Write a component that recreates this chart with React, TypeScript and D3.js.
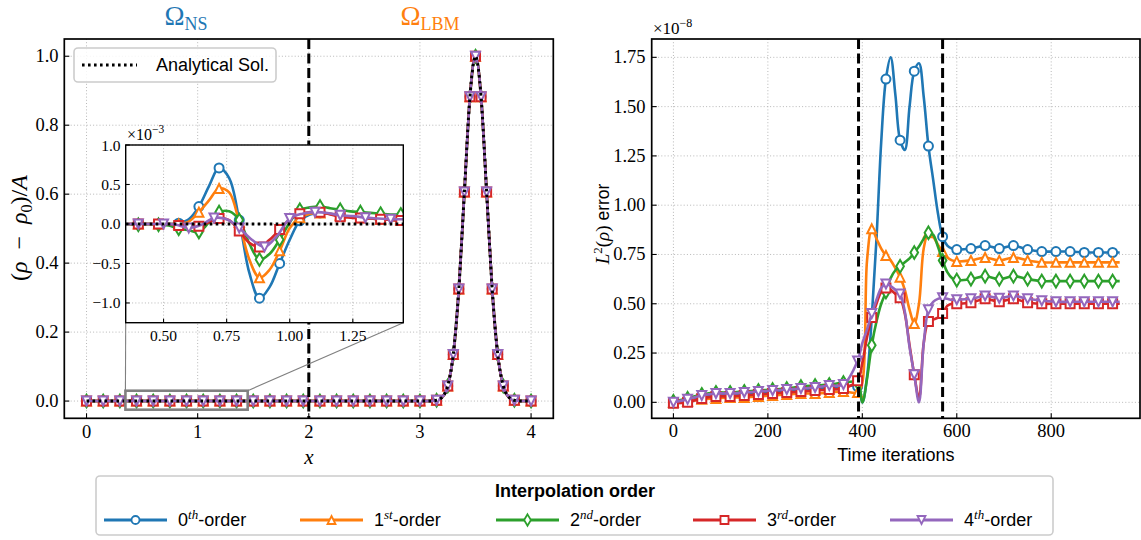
import React, { useEffect, useRef } from 'react';
import * as d3 from 'd3';

const SERIF = '"Liberation Serif", "DejaVu Serif", serif';
const SANS = '"Liberation Sans", "DejaVu Sans", sans-serif';

const COLORS = ['#1f77b4', '#ff7f0e', '#2ca02c', '#d62728', '#9467bd'];
const MARKER_KINDS = ['o', '^', 'd', 's', 'v'];
const ORDER_NUM = ['0', '1', '2', '3', '4'];
const ORDER_SUP = ['th', 'st', 'nd', 'rd', 'th'];

// ---------- Left panel: density profile, x = 0, 0.05, ..., 4.00 ----------
const profileX = d3.range(81).map((i) => +(i * 0.05).toFixed(2));
const profileY = [
  0, 0, 0, 0, 0, 0, 0, 0, 0, 0,
  0, 0, 0, 0, 0, 0, 0, 0, 0, 0,
  0, 0, 0, 0, 0, 0, 0, 0, 0, 0,
  0, 0, 0, 0, 0, 0, 0, 0, 0, 0,
  0, 0, 0, 0, 0, 0, 0, 0, 0, 0,
  0, 0, 0, 0, 0, 0, 0, 0, 0, 0,
  0, 0, 0.0003, 0.0022, 0.0111, 0.0439, 0.1353, 0.3247, 0.6065, 0.8825,
  1.0, 0.8825, 0.6065, 0.3247, 0.1353, 0.0439, 0.0111, 0.0022, 0.0003, 0,
  0,
];
const analyticalY = profileY;

// ---------- Inset (values x 1e-3) ----------
const insetX = [0.36, 0.40, 0.44, 0.48, 0.52, 0.56, 0.60, 0.64, 0.68, 0.72, 0.76, 0.80, 0.84, 0.88,
  0.92, 0.96, 1.00, 1.04, 1.08, 1.12, 1.16, 1.20, 1.24, 1.28, 1.32, 1.36, 1.40, 1.44];
const insetBlue = [0, 0, 0, 0, 0, 0.01, 0.06, 0.22, 0.48, 0.71, 0.58, 0.05, -0.62, -0.94, -0.8, -0.5,
  -0.2, 0.04, 0.12, 0.14, 0.13, 0.11, 0.09, 0.08, 0.07, 0.06, 0.05, 0.05];
const insetOrange = [0, 0, 0, 0, 0, 0, 0.03, 0.15, 0.3, 0.45, 0.4, 0.02, -0.45, -0.68, -0.58, -0.34,
  -0.05, 0.08, 0.13, 0.14, 0.13, 0.11, 0.09, 0.08, 0.07, 0.06, 0.05, 0.05];
const insetGreen = [0, -0.01, 0, -0.01, -0.02, -0.06, -0.08, -0.1, 0.02, 0.15, 0.16, 0.05, -0.25, -0.45,
  -0.38, -0.2, 0.02, 0.18, 0.21, 0.22, 0.2, 0.18, 0.16, 0.15, 0.14, 0.13, 0.12, 0.12];
const insetRed = [0, 0, 0, 0, 0, -0.02, -0.03, -0.03, 0.02, 0.07, 0.05, -0.09, -0.24, -0.29, -0.2, -0.07,
  0.06, 0.13, 0.15, 0.15, 0.12, 0.09, 0.08, 0.075, 0.07, 0.06, 0.05, 0.045];
const insetPurpleX = [0.35, 0.40, 0.45, 0.50, 0.55, 0.60, 0.65, 0.70, 0.75, 0.80, 0.85, 0.90, 0.95,
  1.00, 1.05, 1.10, 1.15, 1.20, 1.25, 1.30, 1.35, 1.40, 1.45];
const insetPurple = [0, 0, 0, 0, -0.01, -0.05, -0.01, 0.075, 0.06, -0.05, -0.2, -0.29, -0.15, 0.07,
  0.13, 0.15, 0.14, 0.11, 0.1, 0.08, 0.07, 0.06, 0.06];
const insetAnalyticalX = [0.35, 1.45];
const insetAnalytical = [0, 0];

// ---------- Right panel: L2 error (x 1e-8) ----------
const iterations = [0, 30, 60, 90, 120, 150, 180, 210, 240, 270, 300, 330, 360,
  390, 400, 410, 420, 430, 440, 450, 460, 470, 480, 490, 500, 510, 520, 530, 540, 550, 560, 570, 580, 590, 600,
  630, 660, 690, 720, 750, 780, 810, 840, 870, 900, 930, 945];
const errBlue = [0.0, 0.01, 0.03, 0.04, 0.04, 0.045, 0.05, 0.055, 0.06, 0.065, 0.07, 0.075, 0.08,
  0.08, 0.0, 0.13, 0.43, 0.83, 1.32, 1.64, 1.75, 1.56, 1.33, 1.28, 1.5, 1.68, 1.72, 1.55, 1.3, 1.13, 0.96, 0.84, 0.795, 0.78, 0.775,
  0.78, 0.795, 0.78, 0.795, 0.775, 0.765, 0.765, 0.765, 0.76, 0.76, 0.76, 0.76];
const errOrange = [0.0, 0.005, 0.015, 0.02, 0.025, 0.025, 0.03, 0.035, 0.04, 0.045, 0.045, 0.05, 0.055,
  0.05, 0.1, 0.72, 0.88, 0.83, 0.78, 0.745, 0.72, 0.68, 0.635, 0.57, 0.47, 0.4, 0.5, 0.78, 0.86, 0.84, 0.8, 0.765, 0.735, 0.72, 0.715,
  0.72, 0.735, 0.72, 0.735, 0.72, 0.71, 0.71, 0.71, 0.71, 0.71, 0.71, 0.71];
const errGreen = [0.005, 0.02, 0.04, 0.05, 0.05, 0.055, 0.06, 0.065, 0.07, 0.08, 0.085, 0.09, 0.1,
  0.1, 0.0, 0.12, 0.29, 0.41, 0.5, 0.56, 0.63, 0.67, 0.69, 0.71, 0.73, 0.76, 0.79, 0.83, 0.86, 0.85, 0.79, 0.72, 0.66, 0.63, 0.62,
  0.625, 0.64, 0.625, 0.64, 0.625, 0.615, 0.615, 0.615, 0.615, 0.615, 0.615, 0.615];
const errRed = [-0.005, 0.0, 0.02, 0.03, 0.03, 0.035, 0.04, 0.045, 0.05, 0.055, 0.06, 0.065, 0.07,
  0.11, 0.2, 0.33, 0.43, 0.5, 0.56, 0.58, 0.57, 0.55, 0.53, 0.45, 0.29, 0.14, 0.02, 0.3, 0.41, 0.42, 0.43, 0.45, 0.49, 0.5, 0.5,
  0.505, 0.525, 0.51, 0.525, 0.505, 0.5, 0.5, 0.5, 0.5, 0.5, 0.5, 0.5];
const errPurple = [0.0, 0.015, 0.035, 0.045, 0.045, 0.05, 0.055, 0.06, 0.065, 0.07, 0.075, 0.085, 0.09,
  0.21, 0.3, 0.37, 0.45, 0.52, 0.58, 0.6, 0.59, 0.57, 0.55, 0.46, 0.28, 0.14, 0.0, 0.3, 0.47, 0.51, 0.525, 0.53, 0.525, 0.52, 0.52,
  0.525, 0.54, 0.528, 0.54, 0.525, 0.515, 0.51, 0.51, 0.51, 0.51, 0.51, 0.51];
const interfaceIterations = [392, 570];

// ---------- ticks ----------
const leftXTicks = [0, 1, 2, 3, 4];
const leftYTicks = [0, 0.2, 0.4, 0.6, 0.8, 1.0];
const insetXTicks = [0.5, 0.75, 1.0, 1.25];
const insetYTicks = [-1.0, -0.5, 0, 0.5, 1.0];
const rightXTicks = [0, 200, 400, 600, 800];
const rightYTicks = [0, 0.25, 0.5, 0.75, 1.0, 1.25, 1.5, 1.75];

type G = d3.Selection<SVGGElement, unknown, null, undefined>;

const LW = 2.6;
const MSW = 2;

function drawMarker(g: G, kind: string, cx: number, cy: number, s: number, color: string, sw: number) {
  const h = s / 2;
  let el: any;
  if (kind === 'o') {
    el = g.append('circle').attr('cx', cx).attr('cy', cy).attr('r', h);
  } else {
    let d = '';
    if (kind === '^') d = `M${cx},${cy - h}L${cx + h},${cy + h}L${cx - h},${cy + h}Z`;
    if (kind === 'v') d = `M${cx},${cy + h}L${cx + h},${cy - h}L${cx - h},${cy - h}Z`;
    if (kind === 's') d = `M${cx - h},${cy - h}h${s}v${s}h${-s}Z`;
    if (kind === 'd') {
      const dh = s * 0.707, dw = s * 0.707 * 0.6;
      d = `M${cx},${cy - dh}L${cx + dw},${cy}L${cx},${cy + dh}L${cx - dw},${cy}Z`;
    }
    el = g.append('path').attr('d', d);
  }
  el.attr('fill', '#fff').attr('stroke', color).attr('stroke-width', sw).attr('stroke-linejoin', 'miter');
}

function drawPath(g: G, xs: number[], ys: number[], xS: any, yS: any, color: string, curve: any, width: number, dash?: string) {
  const line = d3.line<number>().x((_, i) => xS(xs[i])).y((v) => yS(v)).curve(curve);
  const p = g.append('path').attr('d', line(ys) as string).attr('fill', 'none')
    .attr('stroke', color).attr('stroke-width', width).attr('stroke-linejoin', 'round');
  if (dash) p.attr('stroke-dasharray', dash);
  return p;
}

// matplotlib-like float markevery: equal display arc-length, snapped to data points
function markEveryFloat(pts: [number, number][], step: number): number[] {
  const cum = [0];
  for (let i = 1; i < pts.length; i++) cum.push(cum[i - 1] + Math.hypot(pts[i][0] - pts[i - 1][0], pts[i][1] - pts[i - 1][1]));
  const out = new Set<number>();
  const total = cum[cum.length - 1];
  for (let k = 0; k * step < total; k++) {
    const t = k * step;
    let i = d3.bisectLeft(cum, t);
    if (i >= cum.length) i = cum.length - 1;
    if (i > 0 && Math.abs(cum[i - 1] - t) <= Math.abs(cum[i] - t)) i = i - 1;
    out.add(i);
  }
  return Array.from(out).sort((a, b) => a - b);
}

function grid(g: G, xt: number[], yt: number[], xS: any, yS: any, b: any) {
  const gg = g.append('g').attr('stroke', '#b0b0b0').attr('stroke-width', 0.9).attr('stroke-dasharray', '1,2.2');
  xt.forEach((t) => gg.append('line').attr('x1', xS(t)).attr('x2', xS(t)).attr('y1', b.y0).attr('y2', b.y1));
  yt.forEach((t) => gg.append('line').attr('x1', b.x0).attr('x2', b.x1).attr('y1', yS(t)).attr('y2', yS(t)));
}

function frameAndTicks(g: G, xt: number[], yt: number[], xS: any, yS: any, b: any, o: any) {
  const tl = o.tickLen;
  xt.forEach((t) => g.append('line').attr('x1', xS(t)).attr('x2', xS(t)).attr('y1', b.y1).attr('y2', b.y1 - tl)
    .attr('stroke', '#000').attr('stroke-width', 1.1));
  yt.forEach((t) => g.append('line').attr('x1', b.x0).attr('x2', b.x0 + tl).attr('y1', yS(t)).attr('y2', yS(t))
    .attr('stroke', '#000').attr('stroke-width', 1.1));
  g.append('rect').attr('x', b.x0).attr('y', b.y0).attr('width', b.x1 - b.x0).attr('height', b.y1 - b.y0)
    .attr('fill', 'none').attr('stroke', '#000').attr('stroke-width', o.frameW);
  xt.forEach((t) => g.append('text').attr('x', xS(t)).attr('y', o.xLabY).attr('text-anchor', 'middle')
    .attr('dominant-baseline', 'central').attr('font-family', SERIF).attr('font-size', o.fs).text(o.xFmt(t)));
  yt.forEach((t) => g.append('text').attr('x', o.yLabX).attr('y', yS(t)).attr('text-anchor', 'end')
    .attr('dominant-baseline', 'central').attr('font-family', SERIF).attr('font-size', o.fs).text(o.yFmt(t)));
}

function draw(svgEl: SVGSVGElement) {
  const svg = d3.select(svgEl);
  svg.selectAll('*').remove();
  const root = svg.append('g') as unknown as G;
  root.append('rect').attr('width', 1141).attr('height', 540).attr('fill', '#fff');
  const defs = svg.append('defs');

  // ================= LEFT PANEL =================
  const LB = { x0: 64.3, x1: 553.3, y0: 39, y1: 418.3 };
  const xL = d3.scaleLinear().domain([-0.2, 4.2]).range([LB.x0, LB.x1]);
  const yL = d3.scaleLinear().domain([-0.05, 1.05]).range([LB.y1, LB.y0]);
  defs.append('clipPath').attr('id', 'clipL').append('rect')
    .attr('x', LB.x0).attr('y', LB.y0).attr('width', LB.x1 - LB.x0).attr('height', LB.y1 - LB.y0);
  const left = root.append('g') as unknown as G;
  grid(left, leftXTicks, leftYTicks, xL, yL, LB);
  const lData = left.append('g').attr('clip-path', 'url(#clipL)') as unknown as G;
  const pts: [number, number][] = profileX.map((x, i) => [xL(x), yL(profileY[i])]);
  const step = 3 * (xL(0.05) - xL(0));
  const idxs = markEveryFloat(pts, step);
  [profileY, profileY, profileY, profileY, profileY].forEach((ys, s) => {
    drawPath(lData, profileX, ys, xL, yL, COLORS[s], d3.curveMonotoneX, LW);
    idxs.forEach((i) => drawMarker(lData, MARKER_KINDS[s], xL(profileX[i]), yL(ys[i]), 9, COLORS[s], MSW));
  });
  drawPath(lData, profileX, analyticalY, xL, yL, '#000', d3.curveMonotoneX, 3, '2.6,3.4');
  left.append('line').attr('x1', xL(2)).attr('x2', xL(2)).attr('y1', LB.y0).attr('y2', LB.y1)
    .attr('stroke', '#000').attr('stroke-width', 3).attr('stroke-dasharray', '10,4.5');
  frameAndTicks(left, leftXTicks, leftYTicks, xL, yL, LB, {
    tickLen: 5, frameW: 1.7, fs: 18.5, xLabY: 432, yLabX: 58.5,
    xFmt: (t: number) => String(t), yFmt: d3.format('.1f'),
  });
  left.append('text').attr('x', (LB.x0 + LB.x1) / 2).attr('y', 457).attr('text-anchor', 'middle')
    .attr('dominant-baseline', 'central').attr('font-family', SERIF).attr('font-style', 'italic')
    .attr('font-size', 21).text('x');
  // y label
  const yl = left.append('text').attr('transform', 'translate(27,228) rotate(-90)').attr('text-anchor', 'middle')
    .attr('font-family', SERIF).attr('font-size', 24);
  yl.append('tspan').text('(');
  yl.append('tspan').attr('font-style', 'italic').text('ρ');
  yl.append('tspan').text('\u2002−\u2002');
  yl.append('tspan').attr('font-style', 'italic').text('ρ');
  yl.append('tspan').attr('font-size', 16).attr('dy', 5).text('0');
  yl.append('tspan').attr('dy', -5).text(')/');
  yl.append('tspan').attr('font-style', 'italic').text('A');
  // Omega labels
  const om1 = left.append('text').attr('x', 186).attr('y', 25).attr('text-anchor', 'middle')
    .attr('font-family', SERIF).attr('fill', COLORS[0]);
  om1.append('tspan').attr('font-size', 27).text('Ω');
  om1.append('tspan').attr('font-size', 18).attr('dy', 5).text('NS');
  const om2 = left.append('text').attr('x', 430).attr('y', 25).attr('text-anchor', 'middle')
    .attr('font-family', SERIF).attr('fill', COLORS[1]);
  om2.append('tspan').attr('font-size', 27).text('Ω');
  om2.append('tspan').attr('font-size', 18).attr('dy', 5).text('LBM');
  // Analytical legend
  left.append('rect').attr('x', 74).attr('y', 48).attr('width', 202).attr('height', 34).attr('rx', 4)
    .attr('fill', '#fff').attr('fill-opacity', 0.85).attr('stroke', '#cccccc').attr('stroke-width', 1.6);
  left.append('line').attr('x1', 82).attr('x2', 137).attr('y1', 65).attr('y2', 65)
    .attr('stroke', '#000').attr('stroke-width', 3).attr('stroke-dasharray', '2.6,3.4');
  left.append('text').attr('x', 156).attr('y', 65).attr('dominant-baseline', 'central')
    .attr('font-family', SANS).attr('font-size', 18).text('Analytical Sol.');

  // zoom indicator
  const IB = { x0: 125.7, x1: 403.3, y0: 145, y1: 322.7 };
  const rx0 = xL(0.35), rx1 = xL(1.45), ry0 = yL(0.03), ry1 = yL(-0.025);
  left.append('line').attr('x1', IB.x0).attr('y1', IB.y1).attr('x2', rx0).attr('y2', ry0)
    .attr('stroke', '#808080').attr('stroke-width', 1.1);
  left.append('line').attr('x1', IB.x1).attr('y1', IB.y1).attr('x2', rx1).attr('y2', ry0)
    .attr('stroke', '#808080').attr('stroke-width', 1.1);
  left.append('rect').attr('x', rx0).attr('y', ry0).attr('width', rx1 - rx0).attr('height', ry1 - ry0)
    .attr('fill', 'none').attr('stroke', '#808080').attr('stroke-width', 2.6);

  // ================= INSET =================
  const xI = d3.scaleLinear().domain([0.35, 1.45]).range([IB.x0, IB.x1]);
  const yI = d3.scaleLinear().domain([-1.25, 1.0]).range([IB.y1, IB.y0]);
  defs.append('clipPath').attr('id', 'clipI').append('rect')
    .attr('x', IB.x0).attr('y', IB.y0).attr('width', IB.x1 - IB.x0).attr('height', IB.y1 - IB.y0);
  const inset = root.append('g') as unknown as G;
  inset.append('rect').attr('x', IB.x0).attr('y', IB.y0).attr('width', IB.x1 - IB.x0).attr('height', IB.y1 - IB.y0)
    .attr('fill', '#fff');
  grid(inset, insetXTicks, insetYTicks, xI, yI, IB);
  const iData = inset.append('g').attr('clip-path', 'url(#clipI)') as unknown as G;
  const insetSeries = [
    { xs: insetX, ys: insetBlue, start: 1, every: 2 },
    { xs: insetX, ys: insetOrange, start: 1, every: 2 },
    { xs: insetX, ys: insetGreen, start: 1, every: 2 },
    { xs: insetX, ys: insetRed, start: 1, every: 2 },
    { xs: insetPurpleX, ys: insetPurple, start: 1, every: 2 },
  ];
  insetSeries.forEach((sr, s) => {
    drawPath(iData, sr.xs, sr.ys, xI, yI, COLORS[s], d3.curveCatmullRom.alpha(0.5), LW);
    sr.xs.forEach((x, i) => {
      if (i >= sr.start && (i - sr.start) % sr.every === 0)
        drawMarker(iData, MARKER_KINDS[s], xI(x), yI(sr.ys[i]), 9, COLORS[s], MSW);
    });
  });
  drawPath(iData, insetAnalyticalX, insetAnalytical, xI, yI, '#000', d3.curveLinear, 3, '2.6,3.4');
  frameAndTicks(inset, insetXTicks, insetYTicks, xI, yI, IB, {
    tickLen: 4, frameW: 1.4, fs: 15.5, xLabY: 335, yLabX: 120.5,
    xFmt: d3.format('.2f'), yFmt: d3.format('.1f'),
  });
  const ex3 = inset.append('text').attr('x', 127).attr('y', 140).attr('font-family', SERIF).attr('font-size', 16);
  ex3.append('tspan').text('×10');
  ex3.append('tspan').attr('font-size', 11.5).attr('dy', -7).text('−3');

  // ================= RIGHT PANEL =================
  const RB = { x0: 651.7, x1: 1140, y0: 39, y1: 418.3 };
  const xR = d3.scaleLinear().domain([-46, 988]).range([RB.x0, RB.x1]);
  const yR = d3.scaleLinear().domain([-0.081, 1.843]).range([RB.y1, RB.y0]);
  defs.append('clipPath').attr('id', 'clipR').append('rect')
    .attr('x', RB.x0).attr('y', RB.y0).attr('width', RB.x1 - RB.x0).attr('height', RB.y1 - RB.y0);
  const right = root.append('g') as unknown as G;
  grid(right, rightXTicks, rightYTicks, xR, yR, RB);
  const rData = right.append('g').attr('clip-path', 'url(#clipR)') as unknown as G;
  [errBlue, errOrange, errGreen, errRed, errPurple].forEach((ys, s) => {
    drawPath(rData, iterations, ys, xR, yR, COLORS[s], d3.curveCatmullRom.alpha(0.5), LW);
    iterations.forEach((it, i) => {
      if (it % 30 === 0) drawMarker(rData, MARKER_KINDS[s], xR(it), yR(ys[i]), 9, COLORS[s], MSW);
    });
  });
  interfaceIterations.forEach((it) => right.append('line').attr('x1', xR(it)).attr('x2', xR(it))
    .attr('y1', RB.y0).attr('y2', RB.y1).attr('stroke', '#000').attr('stroke-width', 3).attr('stroke-dasharray', '10,4.5'));
  frameAndTicks(right, rightXTicks, rightYTicks, xR, yR, RB, {
    tickLen: 5, frameW: 1.7, fs: 18.5, xLabY: 431, yLabX: 645.5,
    xFmt: (t: number) => String(t), yFmt: d3.format('.2f'),
  });
  right.append('text').attr('x', (RB.x0 + RB.x1) / 2).attr('y', 455).attr('text-anchor', 'middle')
    .attr('dominant-baseline', 'central').attr('font-family', SANS).attr('font-size', 18).text('Time iterations');
  const ryl = right.append('text').attr('transform', 'translate(609,224) rotate(-90)').attr('text-anchor', 'middle')
    .attr('font-family', SERIF).attr('font-size', 19);
  ryl.append('tspan').attr('font-style', 'italic').text('L');
  ryl.append('tspan').attr('font-size', 13).attr('dy', -7).text('2');
  ryl.append('tspan').attr('dy', 7).text('(');
  ryl.append('tspan').attr('font-style', 'italic').text('ρ');
  ryl.append('tspan').text(')');
  ryl.append('tspan').attr('font-family', SANS).attr('font-size', 17.5).text(' error');
  const ex8 = right.append('text').attr('x', 653).attr('y', 34).attr('font-family', SERIF).attr('font-size', 17);
  ex8.append('tspan').text('×10');
  ex8.append('tspan').attr('font-size', 12).attr('dy', -7).text('−8');

  // ================= BOTTOM LEGEND =================
  const leg = root.append('g') as unknown as G;
  leg.append('rect').attr('x', 96).attr('y', 476).attr('width', 957).attr('height', 59).attr('rx', 4)
    .attr('fill', '#fff').attr('stroke', '#cccccc').attr('stroke-width', 1.6);
  leg.append('text').attr('x', 575).attr('y', 491).attr('text-anchor', 'middle').attr('dominant-baseline', 'central')
    .attr('font-family', SANS).attr('font-weight', 'bold').attr('font-size', 18).text('Interpolation order');
  const starts = [104, 300, 496, 693, 890];
  starts.forEach((x0, s) => {
    leg.append('line').attr('x1', x0).attr('x2', x0 + 63).attr('y1', 520).attr('y2', 520)
      .attr('stroke', COLORS[s]).attr('stroke-width', 2.8);
    drawMarker(leg, MARKER_KINDS[s], x0 + 31.5, 520, 8, COLORS[s], 1.8);
    const t = leg.append('text').attr('x', x0 + 74).attr('y', 526).attr('font-family', SANS).attr('font-size', 18);
    t.append('tspan').text(ORDER_NUM[s]);
    t.append('tspan').attr('font-family', SERIF).attr('font-style', 'italic').attr('font-size', 13).attr('dy', -7)
      .text(ORDER_SUP[s]);
    t.append('tspan').attr('dy', 7).text('-order');
  });
}

export default function App() {
  const ref = useRef<SVGSVGElement>(null);
  useEffect(() => {
    if (ref.current) draw(ref.current);
  }, []);
  return (
    <svg ref={ref} width={1141} height={540}
      style={{ position: 'absolute', left: 0, top: 0, display: 'block', background: '#fff' }} />
  );
}
